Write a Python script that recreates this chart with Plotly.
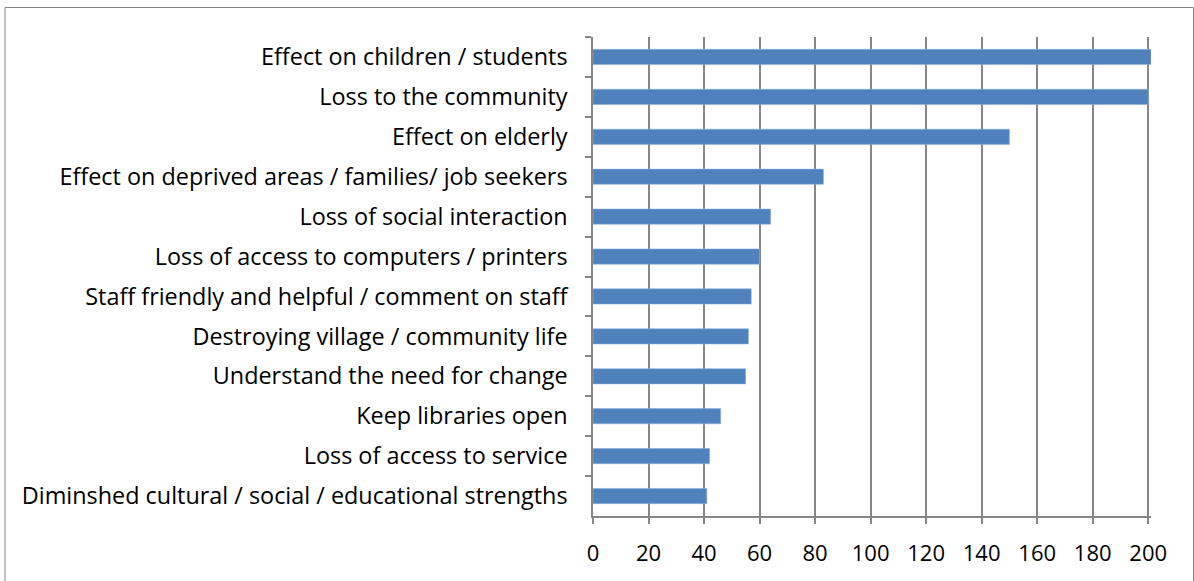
import plotly.graph_objects as go

categories = [
    "Effect on children / students",
    "Loss to the community",
    "Effect on elderly",
    "Effect on deprived areas / families/ job seekers",
    "Loss of social interaction",
    "Loss of access to computers / printers",
    "Staff friendly and helpful / comment on staff",
    "Destroying village / community life",
    "Understand the need for change",
    "Keep libraries open",
    "Loss of access to service",
    "Diminshed cultural / social / educational strengths",
]
values = [201, 200, 150, 83, 64, 60, 57, 56, 55, 46, 42, 41]
x_ticks = [0, 20, 40, 60, 80, 100, 120, 140, 160, 180, 200]

grey = "#868686"
font_family = "Open Sans, Lato, sans-serif"

# plot area in pixels: x 593..1151, y 37..516
L, R, T, B = 593, 1151, 37, 516
W, H = 1194, 581
pw, ph = R - L, B - T

fig = go.Figure(
    go.Bar(
        x=values,
        y=categories,
        orientation="h",
        marker=dict(color="#4F81BD", line=dict(color="#8FB0DA", width=0.6)),
        width=0.38,
        cliponaxis=False,
        hoverinfo="skip",
    )
)

fig.update_layout(
    width=W,
    height=H,
    paper_bgcolor="white",
    plot_bgcolor="white",
    margin=dict(l=L, r=W - R, t=T, b=H - B, autoexpand=False),
    showlegend=False,
    font=dict(family=font_family, size=23, color="black"),
    shapes=[
        dict(
            type="rect", xref="paper", yref="paper",
            x0=(5 - L) / pw, x1=(1193.5 - L) / pw,
            y0=(B - 600) / ph, y1=(B - 7.5) / ph,
            line=dict(color=grey, width=1), fillcolor="rgba(0,0,0,0)",
            layer="below",
        )
    ],
)

fig.update_xaxes(
    range=[0, 201],
    tickvals=x_ticks,
    ticktext=[str(v) for v in x_ticks],
    showgrid=True,
    gridcolor=grey,
    gridwidth=1.5,
    showline=True,
    linecolor=grey,
    linewidth=1.5,
    ticks="outside",
    ticklen=6,
    tickcolor=grey,
    tickwidth=1.5,
    zeroline=False,
    tickfont=dict(size=22, family=font_family),
    ticklabelstandoff=11,
    automargin=False,
)

fig.update_yaxes(
    autorange="reversed",
    type="category",
    showgrid=False,
    showline=True,
    linecolor=grey,
    linewidth=1.5,
    ticks="outside",
    ticklen=6,
    tickcolor=grey,
    tickwidth=1.5,
    tickson="boundaries",
    tickfont=dict(size=23.4, family=font_family),
    ticklabelstandoff=19,
    automargin=False,
)

fig.write_html(
    "out.html",
    config={"displayModeBar": False},
    post_script="document.body.style.margin='0px';",
)
